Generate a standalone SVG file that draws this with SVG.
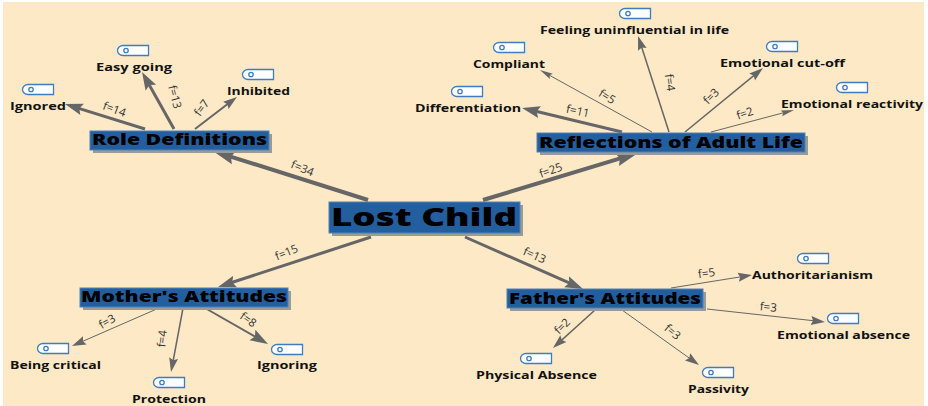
<svg xmlns="http://www.w3.org/2000/svg" xmlns:xlink="http://www.w3.org/1999/xlink" width="928" height="406" viewBox="0 0 928 406">
<style>
text{font-family:"Open Sans","Liberation Sans",sans-serif;fill:#000}
.box{fill:#235f9f;stroke:#4f82b8;stroke-width:1}
.shadow{fill:#9b9b95}
.main{font-weight:800;font-size:25px}
.cat{font-weight:800;font-size:15px}
.leaf{font-weight:700;font-size:10px;fill:#111}
.freq{font-size:11.5px;fill:#333;text-anchor:middle}
.c{fill:none;stroke:#666}
.w4{stroke-width:4}.w3{stroke-width:3}.w2{stroke-width:2}.w15{stroke-width:1.5}.w1{stroke-width:1}
.L{marker-end:url(#hl)}.M{marker-end:url(#hm)}.S{marker-end:url(#hs)}.X{marker-end:url(#hx)}
</style>
<defs>
<marker id="hl" markerUnits="userSpaceOnUse" markerWidth="24" markerHeight="18" refX="6" refY="9" orient="auto"><path d="M0,2 L22,9 L0,16 L3,9 Z" fill="#666"/></marker>
<marker id="hm" markerUnits="userSpaceOnUse" markerWidth="20" markerHeight="14" refX="6" refY="7" orient="auto"><path d="M0,1 L18,7 L0,13 L3,7 Z" fill="#666"/></marker>
<marker id="hs" markerUnits="userSpaceOnUse" markerWidth="16" markerHeight="12" refX="6" refY="6" orient="auto"><path d="M0,1.5 L14,6 L0,10.5 L2,6 Z" fill="#666"/></marker>
<marker id="hx" markerUnits="userSpaceOnUse" markerWidth="15" markerHeight="10" refX="6" refY="5" orient="auto"><path d="M0,2 L13,5 L0,8 L2,5 Z" fill="#666"/></marker>
<g id="icon">
<path d="M6,.5 H31.5 V10.5 H6 A5.5,5 0 0 1 6,.5 Z" fill="#fff" stroke="#3d7dbf" stroke-width="1.3"/>
<circle cx="9" cy="5.5" r="2.2" fill="#fff" stroke="#3d7dbf" stroke-width="1.3"/>
</g>
</defs>
<rect x="0" y="0" width="928" height="406" fill="#fff"/>
<rect x="3" y="2" width="921" height="404" fill="#fde9c6"/>

<g id="connectors">
<path class="c w4 L" d="M368,200 L228.2,155.8"/>
<path class="c w4 L" d="M483,200 L622.7,157.6"/>
<path class="c w3 M" d="M371,237 L229.4,283.3"/>
<path class="c w3 M" d="M465,237 L572,284.2"/>
<path class="c w3 M" d="M145,129 L76.4,107.6"/>
<path class="c w3 M" d="M174,129 L147.9,82.5"/>
<path class="c w2 S" d="M195,129 L230.6,101.8"/>
<path class="c w3 M" d="M622,132 L533.7,110.8"/>
<path class="c w1 X" d="M652,132 L546.1,73.4"/>
<path class="c w15 S" d="M669,132 L640.5,43.6"/>
<path class="c w15 S" d="M685,132 L756.8,73.1"/>
<path class="c w1 X" d="M711,132 L787.2,111.8"/>
<path class="c w1 S" d="M159,308 L79.3,342.8"/>
<path class="c w15 S" d="M183,308 L172.5,364.1"/>
<path class="c w2 M" d="M205,308 L257.6,338"/>
<path class="c w1 S" d="M671,288 L744.1,276.3"/>
<path class="c w1 S" d="M707,309 L817,321.1"/>
<path class="c w15 S" d="M595,310 L558.9,342.6"/>
<path class="c w1 S" d="M622,310 L692.5,360.4"/>
<g>
<text class="freq" transform="translate(301,172) rotate(22)">f=34</text>
<text class="freq" transform="translate(552,174) rotate(-20)">f=25</text>
<text class="freq" transform="translate(288,256) rotate(-22)">f=15</text>
<text class="freq" transform="translate(533,259) rotate(24)">f=13</text>
<text class="freq" transform="translate(113,113) rotate(20)">f=14</text>
<text class="freq" transform="translate(171,98) rotate(75)">f=13</text>
<text class="freq" transform="translate(205,110) rotate(-55)">f=7</text>
<text class="freq" transform="translate(577,115) rotate(12)">f=11</text>
<text class="freq" transform="translate(605,100) rotate(32)">f=5</text>
<text class="freq" transform="translate(666,83) rotate(82)">f=4</text>
<text class="freq" transform="translate(714,99) rotate(-45)">f=3</text>
<text class="freq" transform="translate(746,117) rotate(-18)">f=2</text>
<text class="freq" transform="translate(109,325) rotate(-30)">f=3</text>
<text class="freq" transform="translate(166,339) rotate(-85)">f=4</text>
<text class="freq" transform="translate(246,323) rotate(35)">f=8</text>
<text class="freq" transform="translate(707,277) rotate(-8)">f=5</text>
<text class="freq" transform="translate(768,311) rotate(5)">f=3</text>
<text class="freq" transform="translate(565,329) rotate(-45)">f=2</text>
<text class="freq" transform="translate(670,335) rotate(40)">f=3</text>
</g>
</g>

<g id="lost-child"><rect class="shadow" x="332" y="205" width="191" height="31"/><rect class="box" x="329" y="202" width="191" height="31"/><text class="main" x="331" y="226" textLength="186" lengthAdjust="spacingAndGlyphs">Lost Child</text></g>
<g id="role-definitions"><rect class="shadow" x="93" y="134" width="179" height="19"/><rect class="box" x="90" y="131" width="179" height="19"/><text class="cat" x="92" y="145" textLength="175" lengthAdjust="spacingAndGlyphs">Role Definitions</text></g>
<g id="reflections"><rect class="shadow" x="540" y="136" width="268" height="19"/><rect class="box" x="537" y="133" width="268" height="19"/><text class="cat" x="539" y="148" textLength="264" lengthAdjust="spacingAndGlyphs">Reflections of Adult Life</text></g>
<g id="mothers-attitudes"><rect class="shadow" x="83" y="291" width="208" height="19"/><rect class="box" x="80" y="288" width="208" height="19"/><text class="cat" x="81" y="302" textLength="206" lengthAdjust="spacingAndGlyphs">Mother's Attitudes</text></g>
<g id="fathers-attitudes"><rect class="shadow" x="510" y="292" width="196" height="19"/><rect class="box" x="507" y="289" width="196" height="19"/><text class="cat" x="509" y="304" textLength="192" lengthAdjust="spacingAndGlyphs">Father's Attitudes</text></g>

<g id="easy-going"><use xlink:href="#icon" href="#icon" x="117" y="45"/><text class="leaf" x="96" y="71" textLength="76" lengthAdjust="spacingAndGlyphs">Easy going</text></g>
<g id="ignored"><use xlink:href="#icon" href="#icon" x="22" y="84"/><text class="leaf" x="10" y="110" textLength="56" lengthAdjust="spacingAndGlyphs">Ignored</text></g>
<g id="inhibited"><use xlink:href="#icon" href="#icon" x="242" y="69"/><text class="leaf" x="227" y="95" textLength="63" lengthAdjust="spacingAndGlyphs">Inhibited</text></g>
<g id="feeling-uninfluential"><use xlink:href="#icon" href="#icon" x="619" y="8"/><text class="leaf" x="540" y="34" textLength="189" lengthAdjust="spacingAndGlyphs">Feeling uninfluential in life</text></g>
<g id="compliant"><use xlink:href="#icon" href="#icon" x="493" y="42"/><text class="leaf" x="473" y="68" textLength="72" lengthAdjust="spacingAndGlyphs">Compliant</text></g>
<g id="differentiation"><use xlink:href="#icon" href="#icon" x="451" y="86"/><text class="leaf" x="415" y="112" textLength="106" lengthAdjust="spacingAndGlyphs">Differentiation</text></g>
<g id="emotional-cut-off"><use xlink:href="#icon" href="#icon" x="766" y="41"/><text class="leaf" x="720" y="67" textLength="125" lengthAdjust="spacingAndGlyphs">Emotional cut-off</text></g>
<g id="emotional-reactivity"><use xlink:href="#icon" href="#icon" x="836" y="82"/><text class="leaf" x="781" y="108" textLength="142" lengthAdjust="spacingAndGlyphs">Emotional reactivity</text></g>
<g id="being-critical"><use xlink:href="#icon" href="#icon" x="37" y="343"/><text class="leaf" x="10" y="369" textLength="91" lengthAdjust="spacingAndGlyphs">Being critical</text></g>
<g id="protection"><use xlink:href="#icon" href="#icon" x="153" y="377"/><text class="leaf" x="132" y="403" textLength="74" lengthAdjust="spacingAndGlyphs">Protection</text></g>
<g id="ignoring"><use xlink:href="#icon" href="#icon" x="271" y="344"/><text class="leaf" x="257" y="369" textLength="60" lengthAdjust="spacingAndGlyphs">Ignoring</text></g>
<g id="authoritarianism"><use xlink:href="#icon" href="#icon" x="797" y="253"/><text class="leaf" x="752" y="279" textLength="121" lengthAdjust="spacingAndGlyphs">Authoritarianism</text></g>
<g id="emotional-absence"><use xlink:href="#icon" href="#icon" x="827" y="313"/><text class="leaf" x="777" y="339" textLength="133" lengthAdjust="spacingAndGlyphs">Emotional absence</text></g>
<g id="physical-absence"><use xlink:href="#icon" href="#icon" x="520" y="353"/><text class="leaf" x="476" y="379" textLength="121" lengthAdjust="spacingAndGlyphs">Physical Absence</text></g>
<g id="passivity"><use xlink:href="#icon" href="#icon" x="702" y="367"/><text class="leaf" x="688" y="393" textLength="61" lengthAdjust="spacingAndGlyphs">Passivity</text></g>
</svg>
